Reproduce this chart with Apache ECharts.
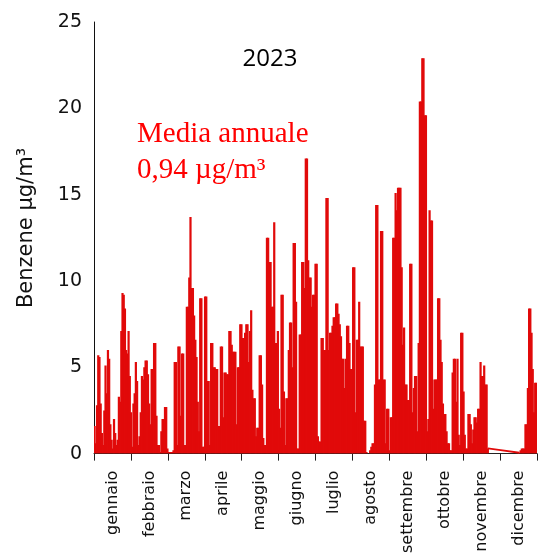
<!DOCTYPE html>
<html>
<head>
<meta charset="utf-8">
<script src="https://cdn.jsdelivr.net/npm/echarts@6/dist/echarts.min.js"></script>
<style>
  html, body { margin: 0; padding: 0; background: #fff; }
  #chart { width: 540px; height: 556px; }
</style>
</head>
<body>
<div id="chart"></div>
<script>
// Month names for the category axis
const months = ['gennaio', 'febbraio', 'marzo', 'aprile', 'maggio', 'giugno',
  'luglio', 'agosto', 'settembre', 'ottobre', 'novembre', 'dicembre'];

// Y axis ticks (µg/m³)
const yTicks = [0, 5, 10, 15, 20, 25];

// Daily benzene concentrations, µg/m³ (null = no valid data)
const gen = [1.6, 0.6, 2.8, 5.7, 5.6, 2.9, 1.2, 0.5, 2.5, 5.1, 3.5, 6.0, 5.5, 1.7, 0.8, 0.3,
  2.0, 1.2, 0.5, 0.8, 3.3, 3.0, 7.1, 9.3, 9.2, 8.4, 6.0, 5.8, 7.1, 4.5, 2.4];
const feb = [0.4, 2.9, 3.5, 5.3, 4.2, 0.5, 1.0, 2.4, 4.5, 4.3, 5.0, 5.4, 5.4, 4.6, 2.9, 1.7,
  4.9, 4.9, 6.4, 6.4, 2.2, 0.5, 0.5, 0.1, 1.3, 2.0, 2.0, 2.7];
const mar = [2.7, 0.3, 0.1, 0.1, 0.1, 0.1, 0.2, 5.3, 5.3, 0.5, 6.2, 6.2, 2.2, 5.8, 5.8, 0.5,
  0.5, 8.5, 8.5, 10.2, 13.7, 9.6, 9.6, 8.0, 6.6, 5.6, 3.0, 1.3, 9.0, 9.0, 0.4];
const apr = [0.4, 9.1, 9.1, 4.2, 4.2, 0.5, 6.4, 6.4, 5.0, 5.0, 4.9, 4.9, 1.6, 1.6, 6.2, 6.2,
  2.1, 4.7, 4.7, 4.6, 4.6, 7.1, 7.1, 6.3, 5.9, 5.9, 5.9, 1.7, 5.0, 5.0];
const mag = [7.5, 7.5, 6.7, 6.7, 7.0, 7.5, 7.5, 5.3, 7.1, 8.3, 3.7, 3.2, 3.2, 1.0, 1.5, 1.5,
  5.7, 5.7, 4.0, 0.9, 0.5, 0.5, 12.5, 12.5, 11.1, 11.1, 8.5, 8.5, 13.4, 6.4, 6.4];
const giu = [7.1, 2.6, 1.5, 9.2, 9.2, 3.6, 0.5, 3.2, 3.2, 6.0, 7.6, 7.6, 5.0, 12.2, 12.2, 8.8,
  0.3, 0.3, 6.9, 6.9, 11.1, 11.1, 9.6, 17.1, 17.1, 11.2, 10.2, 10.2, 8.5, 9.2];
const lug = [9.2, 11.0, 11.0, 1.0, 0.7, 0.7, 6.7, 6.7, 6.0, 6.0, 14.8, 14.8, 6.0, 7.0, 7.0, 7.4,
  7.9, 7.9, 8.7, 8.7, 8.1, 7.5, 6.8, 5.5, 5.5, 3.8, 5.5, 7.4, 7.4, 6.4, 4.9];
const ago = [4.9, 10.8, 10.8, 2.4, 6.6, 6.6, 8.8, 6.2, 6.2, 6.2, 1.9, 1.9, 0.1, 0.0, 0.0, 0.2,
  0.4, 0.6, 0.6, 4.0, 14.4, 14.4, 4.3, 4.3, 12.9, 12.9, 4.3, 4.3, 0.6, 2.6, 2.6];
const set = [0.2, 2.1, 2.1, 12.5, 12.5, 15.1, 14.1, 15.4, 15.4, 15.4, 10.8, 6.3, 7.3, 4.0, 4.0, 3.1,
  3.1, 11.0, 11.0, 2.4, 3.8, 4.5, 4.5, 1.3, 6.4, 20.4, 20.4, 22.9, 22.9, 19.6];
const ott = [19.6, 1.3, 2.0, 14.1, 13.5, 13.5, 2.6, 4.3, 4.3, 4.3, 9.0, 9.0, 6.6, 5.3, 2.9, 2.3,
  2.3, 1.3, 0.6, 0.6, 0.2, 0.2, 4.7, 5.5, 5.5, 3.0, 5.5, 1.1, 0.5, 7.0, 7.0];
const nov = [3.6, 1.1, 0.3, 0.3, 2.3, 2.3, 1.7, 0.6, 1.4, 2.1, 2.1, 1.8, 2.6, 2.6, 5.3, 4.5,
  4.5, 5.1, 4.0, 4.0, 0.3, null, null, null, null, null, null, null, null, null];
const dic = [null, null, null, null, null, null, null, null, null, null, null, null, null, null, null, null,
  0.05, 0.2, 0.3, 0.3, 0.3, 1.7, 1.7, 3.8, 8.4, 8.4, 7.0, 4.9, 2.4, 4.1, 4.1];

// Straight segment across the missing period (day of year, value)
const gapLine = [[324, 0.3], [333, 0.22], [350, 0.05]];

const daily = [].concat(gen, feb, mar, apr, mag, giu, lug, ago, set, ott, nov, dic);
const dayIndex = daily.map((_, i) => String(i));

const RED = '#e10a0a';

// Draws one column per day; each column overlaps its neighbours by half a
// pixel on each side so that adjacent days merge into a continuous fill.
function renderDay(params, api) {
  const v = api.value(1);
  if (v == null || isNaN(v)) return null;
  const top = api.coord([api.value(0), v]);
  const base = api.coord([api.value(0), 0]);
  const w = api.size([1, 0])[0];
  return {
    type: 'rect',
    shape: { x: top[0] - w / 2 - 0.5, y: top[1], width: w + 1, height: base[1] - top[1] },
    style: { fill: RED, stroke: null }
  };
}

const chart = echarts.init(document.getElementById('chart'), null, { renderer: 'canvas' });

chart.setOption({
  animation: false,
  backgroundColor: '#fff',
  grid: { left: 94, right: 3, top: 22, bottom: 93, containLabel: false },
  xAxis: [
    {
      type: 'category',
      data: months,
      position: 'bottom',
      offset: 3,
      boundaryGap: true,
      axisLine: { show: true, lineStyle: { color: '#222', width: 1 } },
      axisTick: { show: true, length: 7, interval: 0, lineStyle: { color: '#222', width: 1 } },
      axisLabel: {
        interval: 0,
        rotate: 90,
        margin: 14,
        fontFamily: 'DejaVu Sans',
        fontSize: 16,
        color: '#111'
      },
      splitLine: { show: false }
    },
    {
      type: 'category',
      data: dayIndex,
      show: false,
      boundaryGap: true
    }
  ],
  yAxis: {
    type: 'value',
    min: yTicks[0],
    max: yTicks[yTicks.length - 1],
    interval: yTicks[1] - yTicks[0],
    axisLine: { show: true, lineStyle: { color: '#111', width: 1 } },
    axisTick: { show: false },
    splitLine: { show: false },
    axisLabel: {
      margin: 12,
      fontFamily: 'DejaVu Sans',
      fontSize: 19,
      color: '#111'
    }
  },
  series: [
    {
      type: 'custom',
      xAxisIndex: 1,
      data: daily.map((v, i) => [i, v]),
      renderItem: renderDay,
      clip: true,
      silent: true
    },
    {
      type: 'line',
      xAxisIndex: 1,
      data: gapLine,
      symbol: 'none',
      lineStyle: { color: RED, width: 1.8 },
      silent: true
    }
  ],
  graphic: [
    {
      type: 'text',
      x: 270, y: 59,
      style: {
        text: '2023',
        fontFamily: 'Open Sans',
        fontSize: 24,
        fill: '#000',
        align: 'center',
        verticalAlign: 'middle'
      }
    },
    {
      type: 'text',
      x: 137, y: 120,
      style: {
        text: 'Media annuale',
        fontFamily: 'Liberation Serif',
        fontSize: 29,
        fill: '#ff0000',
        align: 'left',
        verticalAlign: 'alphabetic'
      }
    },
    {
      type: 'text',
      x: 137, y: 156,
      style: {
        text: '0,94 µg/m³',
        fontFamily: 'Liberation Serif',
        fontSize: 29,
        fill: '#ff0000',
        align: 'left',
        verticalAlign: 'alphabetic'
      }
    },
    {
      type: 'text',
      x: 27, y: 228,
      rotation: Math.PI / 2,
      style: {
        text: 'Benzene µg/m³',
        fontFamily: 'DejaVu Sans',
        fontSize: 21,
        fill: '#111',
        align: 'center',
        verticalAlign: 'middle'
      }
    }
  ]
});
</script>
</body>
</html>
